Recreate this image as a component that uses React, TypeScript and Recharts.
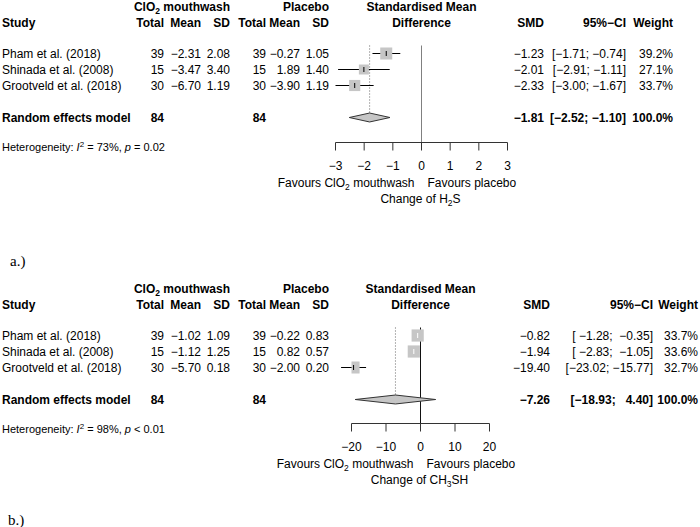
import { ScatterChart, Scatter, XAxis, YAxis, ReferenceLine } from 'recharts'

const FONT = '"Liberation Sans", Arial, Helvetica, sans-serif'
const SERIF = '"Liberation Serif", "Times New Roman", serif'
const BOX_FILL = '#c6c6c6'

const studies = ['Pham et al. (2018)', 'Shinada et al. (2008)', 'Grootveld et al. (2018)']

// a.) change of H2S
const h2sTrtTotal = [39, 15, 30]
const h2sTrtMean = [-2.31, -3.47, -6.7]
const h2sTrtSd = [2.08, 3.4, 1.19]
const h2sCtlTotal = [39, 15, 30]
const h2sCtlMean = [-0.27, 1.89, -3.9]
const h2sCtlSd = [1.05, 1.4, 1.19]
const h2sSmd = [-1.23, -2.01, -2.33]
const h2sLower = [-1.71, -2.91, -3.0]
const h2sUpper = [-0.74, -1.11, -1.67]
const h2sWeight = [39.2, 27.1, 33.7]
const h2sPooled = [-1.81, -2.52, -1.1] // smd, lower, upper
const h2sTicks = [-3, -2, -1, 0, 1, 2, 3]
const h2sHet = ['73%', '= 0.02']

// b.) change of CH3SH
const ch3TrtTotal = [39, 15, 30]
const ch3TrtMean = [-1.02, -1.12, -5.7]
const ch3TrtSd = [1.09, 1.25, 0.18]
const ch3CtlTotal = [39, 15, 30]
const ch3CtlMean = [-0.22, 0.82, -2.0]
const ch3CtlSd = [0.83, 0.57, 0.2]
const ch3Smd = [-0.82, -1.94, -19.4]
const ch3Lower = [-1.28, -2.83, -23.02]
const ch3Upper = [-0.35, -1.05, -15.77]
const ch3Weight = [33.7, 33.6, 32.7]
const ch3Pooled = [-7.26, -18.93, 4.4]
const ch3Ticks = [-20, -10, 0, 10, 20]
const ch3Het = ['98%', '< 0.01']

// half-pixel offsets keep the 1px lines crisp
const PLOT_TOP = 45.5
const ROW_H = 16
const X_AXIS_H = 30
const DIAMOND_H = 0.28

const minus = (s: string) => s.replace(/-/g, '\u2212')
const num = (v: number, d = 2) => minus(v.toFixed(d))
const sum = (a: number[]) => a.reduce((s, v) => s + v, 0)

function ciText(lo: number, hi: number, w: number) {
  return `[${num(lo).padStart(w)}; ${num(hi).padStart(w)}]`
}

type Panel = {
  top: number
  height: number
  axisY: number
  plotLeft: number
  plotRight: number
  domain: [number, number]
  ticks: number[]
  boxScale: number
  zeroColor: string
  trtTotal: number[]
  trtMean: number[]
  trtSd: number[]
  ctlTotal: number[]
  ctlMean: number[]
  ctlSd: number[]
  smd: number[]
  lower: number[]
  upper: number[]
  weight: number[]
  pooled: number[]
  het: string[]
  right: { smd: number; ci: number; w: number }
  outcome: React.ReactNode
  tag: string
  tagX: number
  tagY: number
}

function ForestChart({ p }: { p: Panel }) {
  const plotW = p.plotRight - p.plotLeft
  const pxPerUnit = plotW / (p.domain[1] - p.domain[0])
  const yDomain: [number, number] = [0.5, 0.5 + (p.axisY - PLOT_TOP) / ROW_H]
  const summaryRow = studies.length + 2

  const rows = p.smd.map((v, i) => {
    const side = p.boxScale * Math.sqrt(p.weight[i])
    return {
      x: v,
      y: i + 1,
      lo: p.lower[i],
      hi: p.upper[i],
      side,
      inside: (p.upper[i] - p.lower[i]) * pxPerUnit < side,
    }
  })
  const diamond = [
    { x: p.pooled[1], y: summaryRow },
    { x: p.pooled[0], y: summaryRow - DIAMOND_H },
    { x: p.pooled[2], y: summaryRow },
    { x: p.pooled[0], y: summaryRow + DIAMOND_H },
  ]

  const boxShape = (props: any) => {
    const { cx, cy, payload } = props
    const s = payload.side
    const c = payload.inside ? '#fff' : '#000'
    return (
      <g>
        <rect x={cx - s / 2} y={cy - s / 2} width={s} height={s} fill={BOX_FILL} />
        <line x1={cx} x2={cx} y1={cy - 2.5} y2={cy + 2.5} stroke={c} strokeWidth={1} />
      </g>
    )
  }

  return (
    <ScatterChart
      width={700}
      height={p.height}
      margin={{ top: PLOT_TOP, right: 700 - p.plotRight, bottom: p.height - p.axisY - X_AXIS_H, left: p.plotLeft }}
    >
      <XAxis
        type="number"
        dataKey="x"
        domain={p.domain}
        ticks={p.ticks}
        allowDataOverflow
        interval={0}
        height={X_AXIS_H}
        tickSize={8}
        tickMargin={11}
        stroke="#333"
        tick={{ fill: '#000', fontSize: 12, fontFamily: FONT }}
        tickFormatter={(v: number) => minus(String(v))}
      />
      <YAxis type="number" dataKey="y" hide reversed domain={yDomain} allowDataOverflow width={0} />
      <ReferenceLine
        segment={[
          { x: p.pooled[0], y: 0.5 },
          { x: p.pooled[0], y: summaryRow - DIAMOND_H },
        ]}
        stroke="#666"
        strokeDasharray="1 2"
        ifOverflow="visible"
      />
      <Scatter data={rows} shape={boxShape} isAnimationActive={false} />
      {rows.map((r) => (
        <ReferenceLine
          key={r.y}
          segment={[
            { x: r.lo, y: r.y },
            { x: r.hi, y: r.y },
          ]}
          stroke={r.inside ? '#fff' : '#000'}
          strokeWidth={1}
          ifOverflow="visible"
        />
      ))}
      <Scatter
        data={diamond}
        shape={() => <g />}
        line={{ fill: BOX_FILL, stroke: '#333', strokeWidth: 1 }}
        lineJointType="linearClosed"
        isAnimationActive={false}
      />
      <ReferenceLine x={0} stroke={p.zeroColor} strokeWidth={1} />
    </ScatterChart>
  )
}

function T({
  x,
  y,
  anchor = 'start',
  bold = false,
  size = 12,
  family = FONT,
  children,
}: {
  x: number
  y: number
  anchor?: 'start' | 'middle' | 'end'
  bold?: boolean
  size?: number
  family?: string
  children: React.ReactNode
}) {
  return (
    <text
      x={x}
      y={y}
      dy="0.35em"
      textAnchor={anchor}
      fontWeight={bold ? 'bold' : 'normal'}
      fontSize={size}
      fontFamily={family}
      fill="#000"
      style={{ whiteSpace: 'pre' }}
    >
      {children}
    </text>
  )
}

const ClO2 = (
  <>
    ClO<tspan dy={3} fontSize={8.5}>2</tspan>
    <tspan dy={-3}> mouthwash</tspan>
  </>
)

const COL = { total1: 164, mean1: 201, sd1: 230, total2: 266, mean2: 300, sd2: 329 }

function TableText({ p }: { p: Panel }) {
  const t = p.top
  const zeroX = p.plotLeft + ((0 - p.domain[0]) / (p.domain[1] - p.domain[0])) * (p.plotRight - p.plotLeft)
  const rowY = (r: number) => t + PLOT_TOP + (r - 0.5) * ROW_H
  const summaryRow = studies.length + 2
  const ciW = Math.max(...[...p.lower, ...p.upper, ...p.pooled.slice(1)].map((v) => num(v).length))
  const h1 = t + 6.5
  const h2 = t + 22.5
  const axisY = t + p.axisY
  return (
    <g>
      <T x={COL.sd1} y={h1} anchor="end" bold>{ClO2}</T>
      <T x={COL.sd2} y={h1} anchor="end" bold>Placebo</T>
      <T x={zeroX} y={h1} anchor="middle" bold>Standardised Mean</T>
      <T x={2} y={h2} bold>Study</T>
      <T x={COL.total1} y={h2} anchor="end" bold>Total</T>
      <T x={COL.mean1} y={h2} anchor="end" bold>Mean</T>
      <T x={COL.sd1} y={h2} anchor="end" bold>SD</T>
      <T x={COL.total2} y={h2} anchor="end" bold>Total</T>
      <T x={COL.mean2} y={h2} anchor="end" bold>Mean</T>
      <T x={COL.sd2} y={h2} anchor="end" bold>SD</T>
      <T x={zeroX} y={h2} anchor="middle" bold>Difference</T>
      <T x={p.right.smd} y={h2} anchor="end" bold>SMD</T>
      <T x={p.right.ci} y={h2} anchor="end" bold>95%{'\u2212'}CI</T>
      <T x={p.right.w} y={h2} anchor="end" bold>Weight</T>

      {studies.map((s, i) => {
        const y = rowY(i + 1)
        return (
          <g key={s}>
            <T x={2} y={y}>{s}</T>
            <T x={COL.total1} y={y} anchor="end">{p.trtTotal[i]}</T>
            <T x={COL.mean1} y={y} anchor="end">{num(p.trtMean[i])}</T>
            <T x={COL.sd1} y={y} anchor="end">{num(p.trtSd[i])}</T>
            <T x={COL.total2} y={y} anchor="end">{p.ctlTotal[i]}</T>
            <T x={COL.mean2} y={y} anchor="end">{num(p.ctlMean[i])}</T>
            <T x={COL.sd2} y={y} anchor="end">{num(p.ctlSd[i])}</T>
            <T x={p.right.smd} y={y} anchor="end">{num(p.smd[i])}</T>
            <T x={p.right.ci} y={y} anchor="end">{ciText(p.lower[i], p.upper[i], ciW)}</T>
            <T x={p.right.w} y={y} anchor="end">{p.weight[i].toFixed(1)}%</T>
          </g>
        )
      })}

      <T x={2} y={rowY(summaryRow)} bold>Random effects model</T>
      <T x={COL.total1} y={rowY(summaryRow)} anchor="end" bold>{sum(p.trtTotal)}</T>
      <T x={COL.total2} y={rowY(summaryRow)} anchor="end" bold>{sum(p.ctlTotal)}</T>
      <T x={p.right.smd} y={rowY(summaryRow)} anchor="end" bold>{num(p.pooled[0])}</T>
      <T x={p.right.ci} y={rowY(summaryRow)} anchor="end" bold>{ciText(p.pooled[1], p.pooled[2], ciW)}</T>
      <T x={p.right.w} y={rowY(summaryRow)} anchor="end" bold>{sum(p.weight).toFixed(1)}%</T>

      <T x={2} y={t + 147} size={11}>
        Heterogeneity: <tspan fontStyle="italic">I</tspan>
        <tspan dy={-4} fontSize={8}>2</tspan>
        <tspan dy={4}> = {p.het[0]}, </tspan>
        <tspan fontStyle="italic">p</tspan> {p.het[1]}
      </T>

      <T x={zeroX - 7} y={axisY + 40} anchor="end">Favours {ClO2}</T>
      <T x={zeroX + 6} y={axisY + 40}>Favours placebo</T>
      <T x={zeroX - 1} y={axisY + 56} anchor="middle">{p.outcome}</T>

      <T x={p.tagX} y={t + p.tagY} size={15} family={SERIF}>{p.tag}</T>
    </g>
  )
}

const panelA: Panel = {
  top: 0,
  height: 282,
  axisY: 142.5,
  plotLeft: 335.5,
  plotRight: 507.5,
  domain: [-3, 3],
  ticks: h2sTicks,
  boxScale: 1.92,
  zeroColor: '#808080',
  trtTotal: h2sTrtTotal,
  trtMean: h2sTrtMean,
  trtSd: h2sTrtSd,
  ctlTotal: h2sCtlTotal,
  ctlMean: h2sCtlMean,
  ctlSd: h2sCtlSd,
  smd: h2sSmd,
  lower: h2sLower,
  upper: h2sUpper,
  weight: h2sWeight,
  pooled: h2sPooled,
  het: h2sHet,
  right: { smd: 544, ci: 626, w: 673 },
  outcome: (
    <>
      Change of H<tspan dy={3} fontSize={8.5}>2</tspan>
      <tspan dy={-3}>S</tspan>
    </>
  ),
  tag: 'a.)',
  tagX: 10,
  tagY: 261,
}

const panelB: Panel = {
  top: 282,
  height: 245,
  axisY: 141.5,
  plotLeft: 351.5,
  plotRight: 489.5,
  domain: [-20, 20],
  ticks: ch3Ticks,
  boxScale: 2.1,
  zeroColor: '#111',
  trtTotal: ch3TrtTotal,
  trtMean: ch3TrtMean,
  trtSd: ch3TrtSd,
  ctlTotal: ch3CtlTotal,
  ctlMean: ch3CtlMean,
  ctlSd: ch3CtlSd,
  smd: ch3Smd,
  lower: ch3Lower,
  upper: ch3Upper,
  weight: ch3Weight,
  pooled: ch3Pooled,
  het: ch3Het,
  right: { smd: 550, ci: 653, w: 698 },
  outcome: (
    <>
      Change of CH<tspan dy={3} fontSize={8.5}>3</tspan>
      <tspan dy={-3}>SH</tspan>
    </>
  ),
  tag: 'b.)',
  tagX: 8,
  tagY: 238,
}

export default function App() {
  return (
    <div style={{ position: 'absolute', left: 0, top: 0, width: 700, height: 527, background: '#fff' }}>
      <div style={{ position: 'absolute', left: 0, top: panelA.top }}>
        <ForestChart p={panelA} />
      </div>
      <div style={{ position: 'absolute', left: 0, top: panelB.top }}>
        <ForestChart p={panelB} />
      </div>
      <svg
        width={700}
        height={527}
        style={{ position: 'absolute', left: 0, top: 0, pointerEvents: 'none', overflow: 'visible' }}
      >
        <TableText p={panelA} />
        <TableText p={panelB} />
      </svg>
    </div>
  )
}
